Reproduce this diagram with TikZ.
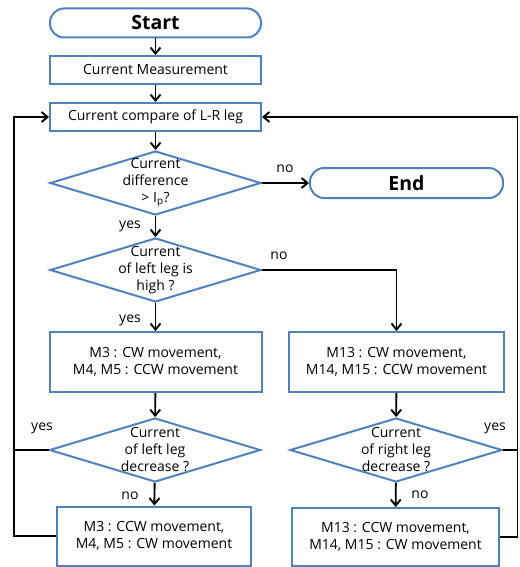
\documentclass[tikz,border=0pt]{standalone}
\usepackage{fontspec}
\setmainfont{Open Sans}
\usetikzlibrary{
  positioning,
  arrows.meta,
  shapes.geometric
}
\usepackage{xcolor}
\definecolor{boxline}{HTML}{4F81BD}

\begin{document}
\begin{tikzpicture}[
  x=1pt, y=1pt,
  font=\fontsize{14}{17}\selectfont,
  stadium/.style={draw=boxline, line width=2pt, rounded corners=14pt,
                  minimum width=211pt, minimum height=29pt, inner sep=0pt,
                  font=\fontsize{19.5}{22}\selectfont\bfseries},
  procbox/.style={draw=boxline, line width=2pt, minimum width=211pt,
                  minimum height=28pt, inner sep=0pt, align=center},
  decision/.style={draw=boxline, line width=2pt, diamond, aspect=3.3,
                   minimum width=211pt, minimum height=64pt, inner sep=0pt},
  dtext/.style={align=center, inner sep=0pt},
  arr/.style={-{Straight Barb[length=6pt, width=10pt]}, line width=1.9pt},
  link/.style={line width=1.9pt},
  tag/.style={inner sep=0pt},
]
  \useasboundingbox (0,0) rectangle (519,-567);

  % main column
  \node[stadium] (start) at (155.5,-23) {Start};
  \node[procbox] (meas) at (155.5,-70) {Current Measurement};
  \node[procbox] (comp) at (155.5,-117) {Current compare of L-R leg};
  \node[decision, label={[dtext]center:Current\\difference\\> I\textsubscript{p}?}] (diff) at (155.5,-183) {};
  \node[stadium, minimum width=193pt, minimum height=30pt] (stop) at (406.5,-183) {End};
  \node[decision, label={[dtext]center:Current\\of left leg is\\high ?}] (high) at (155.5,-270) {};

  % left leg branch
  \node[procbox, minimum width=212pt, minimum height=60pt] (leftcw) at (155.5,-362)
    {M3 : CW movement,\\M4, M5 : CCW movement};
  \node[decision, label={[dtext]center:Current\\of left leg\\decrease ?}] (leftdec) at (155,-450) {};
  \node[procbox, minimum width=194pt, minimum height=59pt] (leftccw) at (154,-536)
    {M3 : CCW movement,\\M4, M5 : CW movement};

  % right leg branch
  \node[procbox, minimum width=215pt, minimum height=60pt] (rightcw) at (396.5,-362)
    {M13 : CW movement,\\M14, M15 : CCW movement};
  \node[decision, minimum width=212pt, label={[dtext]center:Current\\of right leg\\decrease ?}] (rightdec) at (396,-450) {};
  \node[procbox, minimum width=207pt, minimum height=58pt] (rightccw) at (395.5,-537)
    {M13 : CCW movement,\\M14, M15 : CW movement};

  % loop corners
  \coordinate (lloop) at (14,-117);
  \coordinate (rloop) at (517.5,-117);

  % connectors
  \draw[arr] (start) -- (meas);
  \draw[arr] (meas) -- (comp);
  \draw[arr] (comp) -- (diff);
  \draw[arr] (diff) -- (stop);
  \draw[arr] (diff) -- (high);
  \draw[arr] (high) -- (leftcw);
  \draw[arr] (high.east) -| (rightcw.north);
  \draw[arr] (leftcw) -- (leftdec);
  \draw[arr] (leftdec) -- (leftccw);
  \draw[arr] (rightcw) -- (rightdec);
  \draw[arr] (rightdec) -- (rightccw);
  \draw[arr] (leftccw.west) -| (lloop) -- (comp.west);
  \draw[link] (leftdec.west) -- (leftdec.west -| lloop);
  \draw[arr] (rightccw.east) -| (rloop) -- (comp.east);
  \draw[link] (rightdec.east) -- (rightdec.east -| rloop);

  % branch labels
  \node[tag] (no1) at (285,-169) {no};
  \node[tag] (yes1) at (130,-226) {yes};
  \node[tag] (no2) at (279,-256) {no};
  \node[tag] (yes2) at (130,-320) {yes};
  \node[tag] (yes3) at (42,-428) {yes};
  \node[tag] (yes4) at (495,-428) {yes};
  \node[tag] (no3) at (130,-496) {no};
  \node[tag] (no4) at (420,-495) {no};
\end{tikzpicture}
\end{document}
